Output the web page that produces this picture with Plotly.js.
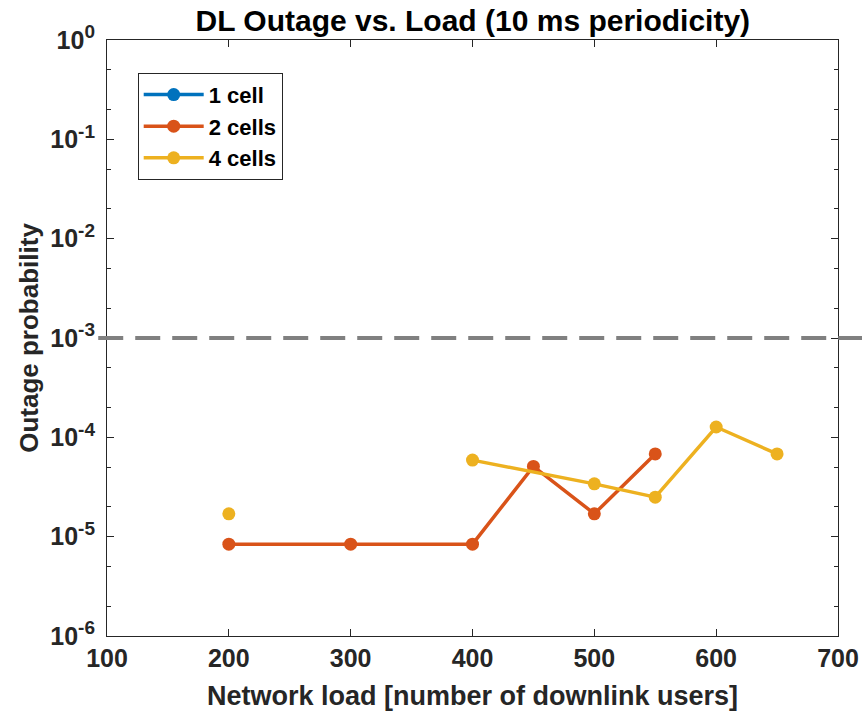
<!DOCTYPE html>
<html><head><meta charset="utf-8">
<script src="https://cdn.plot.ly/plotly-3.0.1.min.js"></script>
<style>html,body{margin:0;padding:0;background:#fff;}#chart{width:862px;height:719px;}</style>
</head><body><div id="chart"></div>
<script>
const loads1 = [200, 300, 400, 450, 500, 550, 600, 650];
const outage1 = [null, null, null, null, null, null, null, null];
const loads2 = [200, 300, 400, 450, 500, 550];
const outage2 = [8.4e-6, 8.4e-6, 8.4e-6, 5.1e-5, 1.7e-5, 6.8e-5];
const loads4 = [200, 300, 400, 500, 550, 600, 650];
const outage4 = [1.7e-5, null, 5.9e-5, 3.4e-5, 2.5e-5, 1.27e-4, 6.8e-5];
const names = ['1 cell', '2 cells', '4 cells'];
const colors = ['#0072BD', '#D95319', '#EDB120'];
const threshold = 1e-3;
const xTickVals = [100, 200, 300, 400, 500, 600, 700];
const yTickVals = [1e-6, 1e-5, 1e-4, 1e-3, 1e-2, 1e-1, 1];
const yExponents = ['-6', '-5', '-4', '-3', '-2', '-1', '0'];
const yTickText = yExponents.map(e => '10<sup><span style="font-size:19px">' + e + '</span></sup>');

const series = [[loads1, outage1], [loads2, outage2], [loads4, outage4]];
const traces = series.map((s, i) => ({
  x: s[0], y: s[1], name: names[i], type: 'scatter', mode: 'lines+markers',
  line: {color: colors[i], width: 3.5}, marker: {color: colors[i], size: 13},
  connectgaps: false
}));

const arial = {family: 'Liberation Sans, Arial, sans-serif', color: '#262626', weight: 'bold'};
const layout = {
  width: 862, height: 719,
  margin: {l: 107, r: 24, t: 40, b: 83},
  paper_bgcolor: '#fff', plot_bgcolor: '#fff',
  showlegend: true,
  title: {text: 'DL Outage vs. Load (10 ms periodicity)', x: 0.5485, xanchor: 'center', y: 0.972, yanchor: 'middle',
    font: Object.assign({}, arial, {size: 30, color: '#000'})},
  xaxis: {
    range: [100, 700], tickvals: xTickVals,
    ticks: 'inside', ticklen: 7, tickcolor: '#262626', mirror: 'ticks', showline: true, linecolor: '#262626', linewidth: 1,
    showgrid: false, zeroline: false,
    tickfont: Object.assign({}, arial, {size: 25}),
    title: {text: 'Network load [number of downlink users]', standoff: 15, font: Object.assign({}, arial, {size: 27})}
  },
  yaxis: {
    type: 'log', range: [-6, 0], tickvals: yTickVals, ticktext: yTickText,
    ticks: 'inside', ticklen: 7, tickcolor: '#262626', mirror: 'ticks', showline: true, linecolor: '#262626', linewidth: 1,
    showgrid: false, zeroline: false,
    minor: {ticks: 'inside', ticklen: 4, tickcolor: '#262626', showgrid: false},
    tickfont: Object.assign({}, arial, {size: 25}),
    ticklabelstandoff: 6,
    title: {text: 'Outage probability', standoff: 4, font: Object.assign({}, arial, {size: 26})}
  },
  legend: {
    x: 0.042, y: 0.945, xanchor: 'left', yanchor: 'top',
    bgcolor: '#fff', bordercolor: '#262626', borderwidth: 1,
    font: Object.assign({}, arial, {size: 22, color: '#000'}),
    tracegroupgap: 0, itemwidth: 60
  },
  shapes: [{
    type: 'line', xref: 'paper', yref: 'y', x0: -0.012, x1: 1.04, y0: threshold, y1: threshold,
    line: {color: '#808080', width: 4, dash: '25px,12px'}, layer: 'above'
  }]
};
Plotly.newPlot('chart', traces, layout, {displayModeBar: false, staticPlot: true});
</script></body></html>
